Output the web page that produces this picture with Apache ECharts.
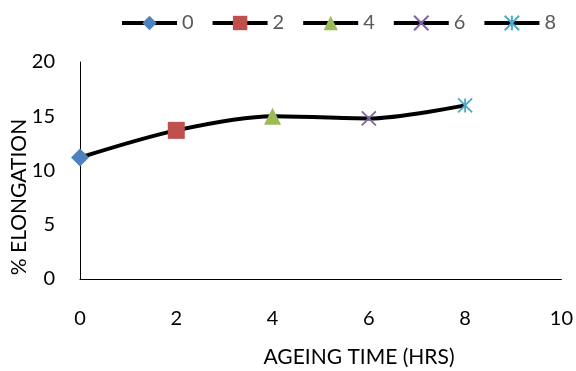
<!DOCTYPE html>
<html>
<head>
<meta charset="utf-8">
<script src="https://cdn.jsdelivr.net/npm/echarts@6/dist/echarts.min.js"></script>
<style>html,body{margin:0;padding:0;background:#fff}#c{width:576px;height:371px}</style>
</head>
<body>
<div id="c"></div>
<script>
const xValues = [0, 2, 4, 6, 8];
const elongation = [11.2, 13.7, 15.0, 14.8, 16.0];
const seriesNames = ['0', '2', '4', '6', '8'];
const markerColors = ['#4F81BD', '#C0504D', '#9BBB59', '#8064A2', '#4BACC6'];
const xTicks = [0, 2, 4, 6, 8, 10];
const yTicks = [0, 5, 10, 15, 20];
const xTitle = 'AGEING TIME (HRS)';
const yTitle = '% ELONGATION';

const FONT = 'Lato';
const symbols = [
  {symbol: 'diamond', size: 18, stroke: false},
  {symbol: 'rect', size: 17, stroke: false},
  {symbol: 'triangle', size: 17, stroke: false},
  {symbol: 'path://M0,0L10,10M0,10L10,0', size: 14, stroke: true},
  {symbol: 'path://M0,0L10,10M0,10L10,0M5,0L5,10', size: 14, stroke: true}
];

const chart = echarts.init(document.getElementById('c'), null, {renderer: 'canvas'});

const pointSeries = seriesNames.map((name, i) => {
  const s = symbols[i];
  return {
    name: name,
    type: 'line',
    data: [[xValues[i], elongation[i]]],
    symbol: s.symbol,
    symbolSize: s.size,
    showAllSymbol: true,
    z: 5,
    lineStyle: {color: '#000', width: 4},
    itemStyle: s.stroke
      ? {color: 'rgba(0,0,0,0)', borderColor: markerColors[i], borderWidth: 1.8}
      : {color: markerColors[i], borderWidth: 0},
    emphasis: {disabled: true}
  };
});

chart.setOption({
  animation: false,
  backgroundColor: '#fff',
  grid: {left: 80, right: 14, top: 62, bottom: 92, containLabel: false},
  legend: {
    data: seriesNames,
    left: 120,
    top: 13,
    width: 456,
    padding: 0,
    itemWidth: 55,
    itemHeight: 18,
    itemGap: 17,
    lineStyle: {width: 4, color: '#000'},
    textStyle: {fontFamily: FONT, fontSize: 20, color: '#595959', padding: [0, 0, 0, 0]}
  },
  xAxis: {
    type: 'value',
    min: 0, max: 10, interval: 2,
    axisLine: {show: true, lineStyle: {color: '#000', width: 1}},
    axisTick: {show: false},
    splitLine: {show: false},
    axisLabel: {fontFamily: FONT, fontSize: 20, color: '#000', margin: 30,
      formatter: v => xTicks.includes(v) ? String(v) : ''}
  },
  yAxis: {
    type: 'value',
    min: 0, max: 20, interval: 5,
    axisLine: {show: true, lineStyle: {color: '#000', width: 1}},
    axisTick: {show: false},
    splitLine: {show: false},
    axisLabel: {fontFamily: FONT, fontSize: 20, color: '#000', margin: 25,
      formatter: v => yTicks.includes(v) ? String(v) : ''}
  },
  graphic: [
    {type: 'text', x: 359, y: 357, silent: true,
      style: {text: xTitle, fontFamily: FONT, fontSize: 21, fill: '#000', align: 'center', verticalAlign: 'middle'}},
    {type: 'text', x: 19, y: 197, rotation: Math.PI / 2, silent: true,
      style: {text: yTitle, fontFamily: FONT, fontSize: 21, fill: '#000', align: 'center', verticalAlign: 'middle'}}
  ],
  series: [
    {
      name: 'curve',
      type: 'line',
      data: xValues.map((x, i) => [x, elongation[i]]),
      smooth: 0.3,
      symbol: 'none',
      z: 3,
      lineStyle: {color: '#000', width: 4},
      emphasis: {disabled: true}
    }
  ].concat(pointSeries)
});
</script>
</body>
</html>
